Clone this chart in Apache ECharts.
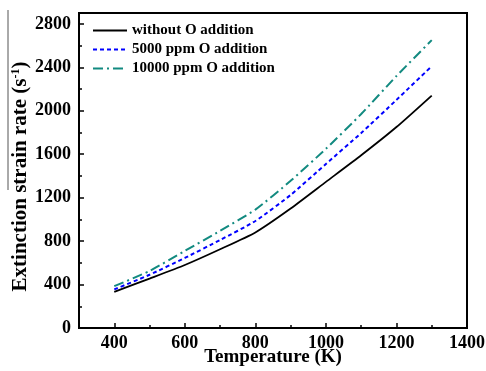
<!DOCTYPE html>
<html><head><meta charset="utf-8">
<script src="https://cdn.jsdelivr.net/npm/echarts@6/dist/echarts.min.js"></script>
<style>html,body{margin:0;padding:0;background:#fff}#c{width:486px;height:371px}</style>
</head><body><div id="c"></div>
<script>
const temperatures = [400, 500, 600, 700, 800, 900, 1000, 1100, 1200, 1300];
const withoutO = [333, 455, 580, 725, 880, 1100, 1345, 1590, 1850, 2140];
const o5000 = [355, 490, 645, 810, 985, 1225, 1510, 1795, 2100, 2410];
const o10000 = [385, 525, 710, 895, 1090, 1355, 1650, 1970, 2320, 2650];
const seriesNames = ['without O addition', '5000 ppm O addition', '10000 ppm O addition'];
const xMajorTicks = [400, 600, 800, 1000, 1200, 1400];
const xMinorTicks = [500, 700, 900, 1100, 1300];
const yMajorTicks = [0, 400, 800, 1200, 1600, 2000, 2400, 2800];
const yMinorTicks = [200, 600, 1000, 1400, 1800, 2200, 2600];

const font = '"Liberation Serif", "Times New Roman", serif';
const pair = arr => temperatures.map((t, i) => [t, arr[i]]);
const plain = v => String(v);
const chart = echarts.init(document.getElementById('c'), null, {renderer: 'canvas'});
const xBase = {type: 'value', min: 300, max: 1400, gridIndex: 0, position: 'bottom', splitLine: {show: false}};
const yBase = {type: 'value', min: 0, max: 2900, gridIndex: 0, position: 'left', splitLine: {show: false}};
chart.setOption({
  animation: false,
  backgroundColor: '#fff',
  grid: {left: 79, right: 19, top: 13, bottom: 43, show: true, borderColor: '#000', borderWidth: 2,
    outerBoundsMode: 'none', containLabel: false},
  legend: {
    orient: 'vertical', left: 87, top: 18, itemWidth: 34, itemHeight: 14, itemGap: 4, itemStyle: {opacity: 0},
    textStyle: {fontFamily: font, fontWeight: 'bold', fontSize: 15, color: '#000'},
    data: seriesNames
  },
  xAxis: [
    Object.assign({}, xBase, {
      name: 'Temperature (K)', nameLocation: 'middle', nameGap: 20, nameMoveOverlap: false,
      nameTextStyle: {fontFamily: font, fontWeight: 'bold', fontSize: 19, color: '#000'},
      axisLine: {lineStyle: {color: '#000', width: 2}},
      axisTick: {inside: true, length: 5, lineStyle: {color: '#000', width: 1.5}, customValues: xMajorTicks},
      axisLabel: {fontFamily: font, fontWeight: 'bold', fontSize: 18, color: '#000', margin: 6, customValues: xMajorTicks, formatter: plain}
    }),
    Object.assign({}, xBase, {
      axisLine: {show: false},
      axisTick: {inside: true, length: 3, lineStyle: {color: '#000', width: 1.5}, customValues: xMinorTicks},
      axisLabel: {show: false}
    })
  ],
  yAxis: [
    Object.assign({}, yBase, {
      name: 'Extinction strain rate (s{sup|-1})', nameLocation: 'middle', nameGap: 48, nameRotate: 90, nameMoveOverlap: false,
      nameTextStyle: {fontFamily: font, fontWeight: 'bold', fontSize: 21, color: '#000', padding: [0, 12, 0, 0],
        rich: {sup: {fontFamily: font, fontWeight: 'bold', fontSize: 12, color: '#000', verticalAlign: 'top', padding: [0, 0, 9, 0]}}},
      axisLine: {lineStyle: {color: '#000', width: 2}},
      axisTick: {inside: true, length: 5, lineStyle: {color: '#000', width: 1.5}, customValues: yMajorTicks},
      axisLabel: {fontFamily: font, fontWeight: 'bold', fontSize: 18, color: '#000', margin: 8, customValues: yMajorTicks, formatter: plain}
    }),
    Object.assign({}, yBase, {
      axisLine: {show: false},
      axisTick: {inside: true, length: 3, lineStyle: {color: '#000', width: 1.5}, customValues: yMinorTicks},
      axisLabel: {show: false}
    })
  ],
  graphic: [{type: 'line', shape: {x1: 8, y1: 10, x2: 8, y2: 190}, style: {stroke: '#555', lineWidth: 1}}],
  series: [
    {name: seriesNames[0], type: 'line', data: pair(withoutO), symbol: 'none', smooth: 0.2,
      lineStyle: {color: '#000', width: 1.8, type: 'solid'}, itemStyle: {color: '#000'}},
    {name: seriesNames[1], type: 'line', data: pair(o5000), symbol: 'none', smooth: 0.2,
      lineStyle: {color: '#0000ff', width: 2, type: [4, 3]}, itemStyle: {color: '#0000ff'}},
    {name: seriesNames[2], type: 'line', data: pair(o10000), symbol: 'none', smooth: 0.2,
      lineStyle: {color: '#128a80', width: 2, type: [10, 4, 2, 4]}, itemStyle: {color: '#128a80'}}
  ]
});
</script></body></html>
